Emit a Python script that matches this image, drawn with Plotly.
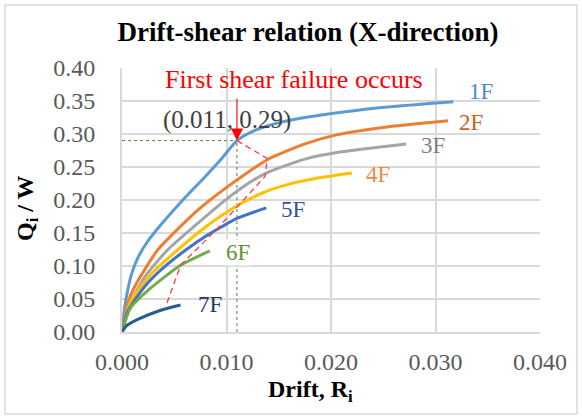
import plotly.graph_objects as go

# Drift R_i and normalised storey shear Q_i / W for each storey
drift_1f = [0, 0.0002, 0.0005, 0.0009, 0.0015, 0.0024, 0.0037, 0.0060, 0.0080, 0.0095, 0.0110, 0.0125, 0.0145, 0.0175, 0.0210, 0.0254, 0.0317]
shear_1f = [0, 0.030, 0.060, 0.087, 0.112, 0.136, 0.162, 0.203, 0.236, 0.262, 0.290, 0.304, 0.315, 0.325, 0.333, 0.341, 0.349]

drift_2f = [0, 0.0003, 0.0008, 0.0015, 0.0034, 0.0056, 0.0075, 0.0095, 0.0115, 0.0139, 0.0175, 0.0206, 0.0250, 0.0312]
shear_2f = [0, 0.030, 0.055, 0.077, 0.124, 0.160, 0.188, 0.213, 0.236, 0.261, 0.285, 0.299, 0.310, 0.320]

drift_3f = [0, 0.0005, 0.0022, 0.0044, 0.0069, 0.0095, 0.0115, 0.0137, 0.0175, 0.0210, 0.0272]
shear_3f = [0, 0.034, 0.084, 0.125, 0.160, 0.195, 0.219, 0.240, 0.262, 0.273, 0.285]

drift_4f = [0, 0.0008, 0.0027, 0.0050, 0.0079, 0.0095, 0.0113, 0.0135, 0.0160, 0.0190, 0.0220]
shear_4f = [0, 0.045, 0.086, 0.120, 0.158, 0.176, 0.194, 0.211, 0.224, 0.234, 0.241]

drift_5f = [0, 0.0005, 0.0012, 0.0025, 0.0040, 0.0060, 0.0080, 0.0095, 0.0110, 0.0138]
shear_5f = [0, 0.030, 0.048, 0.075, 0.098, 0.123, 0.145, 0.159, 0.172, 0.188]

drift_6f = [0, 0.0008, 0.0027, 0.0056, 0.0084]
shear_6f = [0, 0.036, 0.066, 0.101, 0.123]

drift_7f = [0, 0.0004, 0.0015, 0.0037, 0.0056]
shear_7f = [0, 0.009, 0.019, 0.033, 0.041]

# Points where each storey first fails in shear
failure_drift = [0.0110, 0.0139, 0.0137, 0.0113, 0.0092, 0.0056, 0.0041]
failure_shear = [0.290, 0.263, 0.236, 0.194, 0.158, 0.101, 0.035]
first_failure = (0.011, 0.29)

storeys = ["1F", "2F", "3F", "4F", "5F", "6F", "7F"]
drifts = [drift_1f, drift_2f, drift_3f, drift_4f, drift_5f, drift_6f, drift_7f]
shears = [shear_1f, shear_2f, shear_3f, shear_4f, shear_5f, shear_6f, shear_7f]
line_colors = ["#5B9BD5", "#ED7D31", "#A5A5A5", "#FFC000", "#4472C4", "#70AD47", "#255E91"]
label_colors = ["#4A8BC9", "#C8621C", "#7F7F7F", "#F08A3E", "#2F5597", "#5E9438", "#1F3864"]
# label anchor positions (drift, shear)
label_pos = [(0.0344, 0.364), (0.0334, 0.317), (0.0298, 0.282), (0.0245, 0.238),
             (0.0164, 0.186), (0.0111, 0.121), (0.0084, 0.041)]

x_ticks = [0.0, 0.01, 0.02, 0.03, 0.04]
y_ticks = [0.0, 0.05, 0.10, 0.15, 0.20, 0.25, 0.30, 0.35, 0.40]

W, H = 582, 419
ML, MR, MT, MB = 122, 42, 68, 87
PW, PH = W - ML - MR, H - MT - MB


def px(x):
    return (x - ML) / PW


def py(y):
    return (H - MB - y) / PH


SERIF = "Liberation Serif, Times New Roman, serif"
GRID = "#D9D9D9"

fig = go.Figure()

# guide lines to the first failure point
fig.add_trace(go.Scatter(x=[0, first_failure[0]], y=[first_failure[1]] * 2, mode="lines",
                         line=dict(color="#548235", width=1, dash="3px,3px"), hoverinfo="skip"))
fig.add_trace(go.Scatter(x=[first_failure[0]] * 2, y=[0, first_failure[1]], mode="lines",
                         line=dict(color="#548235", width=1, dash="3px,3px"), hoverinfo="skip"))

for name, xs, ys, c in zip(storeys, drifts, shears, line_colors):
    fig.add_trace(go.Scatter(x=xs, y=ys, mode="lines", name=name,
                             line=dict(color=c, width=3, shape="spline", smoothing=0.6)))

fig.add_trace(go.Scatter(x=failure_drift, y=failure_shear, mode="lines",
                         line=dict(color="#FF3B3B", width=1.3, dash="6px,4px"), hoverinfo="skip"))

annotations = []
for name, (lx, ly), c in zip(storeys, label_pos, label_colors):
    annotations.append(dict(x=lx, y=ly, text=name, showarrow=False,
                            font=dict(family=SERIF, size=23, color=c),
                            bgcolor="white" if name == "6F" else None,
                            borderpad=0))

annotations += [
    dict(x=0.0165, y=0.383, text="First shear failure occurs", showarrow=False,
         font=dict(family=SERIF, size=26, color="#FF0000")),
    dict(x=0.0100, y=0.321, text="(0.011, 0.29)", showarrow=False,
         font=dict(family=SERIF, size=25, color="#404040")),
    dict(x=first_failure[0], y=first_failure[1], ax=first_failure[0], ay=0.356,
         axref="x", ayref="y", text="", showarrow=True, arrowhead=2, arrowsize=2.2,
         arrowwidth=1.1, arrowcolor="#FF0000", standoff=0),
    dict(x=px(310), y=py(391), xref="paper", yref="paper", xanchor="center", yanchor="middle",
         text="<b>Drift, R<sub>i</sub></b>", showarrow=False,
         font=dict(family=SERIF, size=24, color="#000000")),
    dict(x=px(27), y=py(208), xref="paper", yref="paper", xanchor="center", yanchor="middle",
         textangle=-90, text="<b>Q<sub>i</sub> / W</b>", showarrow=False,
         font=dict(family=SERIF, size=24, color="#000000")),
]

shapes = [
    # chart frame
    dict(type="rect", xref="paper", yref="paper", x0=px(5), x1=px(577), y0=py(414), y1=py(5),
         line=dict(color=GRID, width=1.5), layer="below"),
    # white backing behind the text boxes inside the plot
    dict(type="rect", xref="paper", yref="paper", x0=px(133), x1=px(460), y0=py(97), y1=py(60),
         fillcolor="white", line=dict(width=0), layer="between"),
    dict(type="line", xref="paper", yref="paper", x0=px(125), x1=px(497), y0=py(135), y1=py(135),
         line=dict(color="white", width=3), layer="between"),
    dict(type="line", xref="paper", yref="paper", x0=px(226.5), x1=px(226.5), y0=py(138), y1=py(126),
         line=dict(color="white", width=3), layer="between"),
]

fig.update_layout(
    width=W, height=H,
    margin=dict(l=ML, r=MR, t=MT, b=MB),
    paper_bgcolor="white", plot_bgcolor="white",
    showlegend=False,
    title=dict(text="<b>Drift-shear relation (X-direction)</b>", x=308 / W, xref="container",
               xanchor="center", y=1 - 32 / H, yref="container", yanchor="middle",
               font=dict(family=SERIF, size=27, color="#000000")),
    annotations=annotations,
    shapes=shapes,
)

fig.update_xaxes(range=[0, 0.04], tickvals=x_ticks, tickformat=".3f",
                 showgrid=True, gridcolor=GRID, gridwidth=2,
                 showline=True, linecolor=GRID, linewidth=2, zeroline=False,
                 ticks="", ticklabelstandoff=7,
                 tickfont=dict(family=SERIF, size=24, color="#595959"))
fig.update_yaxes(range=[0, 0.40], tickvals=y_ticks, tickformat=".2f",
                 showgrid=True, gridcolor=GRID, gridwidth=2,
                 showline=True, linecolor=GRID, linewidth=2, zeroline=False,
                 ticks="", ticklabelstandoff=20,
                 tickfont=dict(family=SERIF, size=24, color="#595959"))

fig.write_html("out.html")
